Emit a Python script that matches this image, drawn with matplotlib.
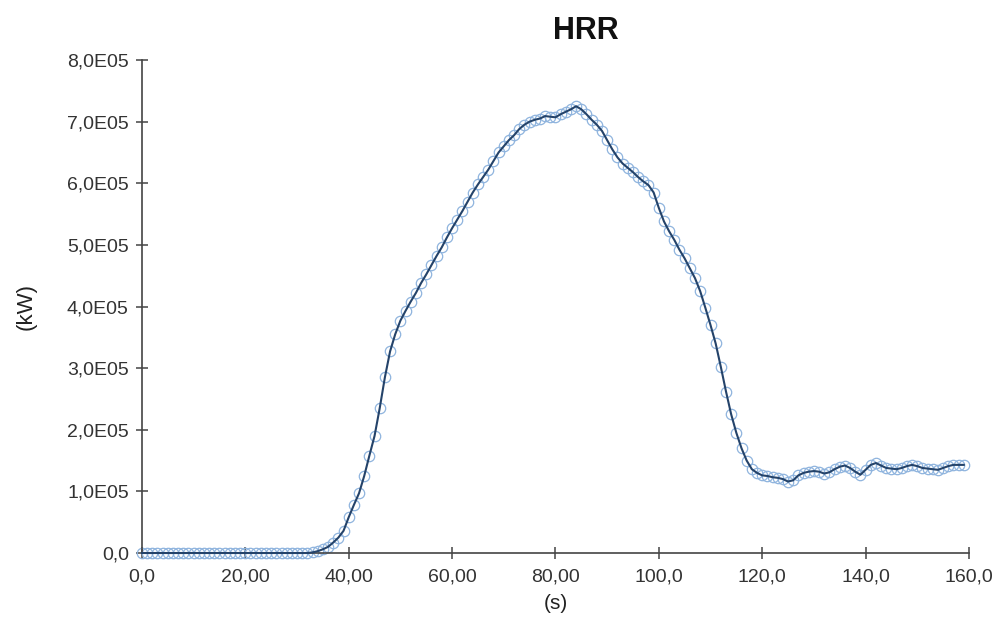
import numpy as np
import matplotlib
matplotlib.use("Agg")
from matplotlib import pyplot as plt

plt.rcParams["font.family"] = ["Liberation Sans", "DejaVu Sans"]

# time (s), one sample per second
time_s = list(range(160))

# heat release rate (units of 1e5 kW)
hrr_e5 = [
    0, 0, 0, 0, 0, 0, 0, 0, 0, 0,
    0, 0, 0, 0, 0, 0, 0, 0, 0, 0,
    0, 0, 0, 0, 0, 0, 0, 0, 0, 0,
    0, 0, 0, 0.01, 0.03, 0.06, 0.10, 0.17, 0.25, 0.36,
    0.58, 0.78, 0.97, 1.25, 1.58, 1.90, 2.35, 2.85, 3.27, 3.55,
    3.77, 3.93, 4.08, 4.22, 4.38, 4.52, 4.67, 4.82, 4.96, 5.12,
    5.27, 5.41, 5.55, 5.70, 5.85, 5.98, 6.10, 6.22, 6.36, 6.50,
    6.60, 6.70, 6.78, 6.88, 6.95, 7.00, 7.03, 7.05, 7.09, 7.08,
    7.07, 7.12, 7.16, 7.20, 7.25, 7.20, 7.12, 7.03, 6.95, 6.85,
    6.70, 6.55, 6.42, 6.32, 6.25, 6.18, 6.10, 6.03, 5.97, 5.85,
    5.60, 5.38, 5.22, 5.08, 4.92, 4.78, 4.62, 4.46, 4.25, 3.98,
    3.70, 3.40, 3.02, 2.62, 2.25, 1.95, 1.70, 1.50, 1.36, 1.30,
    1.26, 1.25, 1.23, 1.22, 1.20, 1.16, 1.18, 1.26, 1.30, 1.32,
    1.33, 1.32, 1.29, 1.31, 1.36, 1.40, 1.42, 1.38, 1.32, 1.27,
    1.35, 1.43, 1.46, 1.42, 1.38, 1.37, 1.36, 1.38, 1.41, 1.43,
    1.41, 1.38, 1.37, 1.36, 1.35, 1.38, 1.41, 1.43, 1.43, 1.43,
]

x_ticks = [0, 20, 40, 60, 80, 100, 120, 140, 160]
x_tick_labels = ["0,0", "20,00", "40,00", "60,00", "80,00",
                 "100,0", "120,0", "140,0", "160,0"]
y_ticks = [0, 1e5, 2e5, 3e5, 4e5, 5e5, 6e5, 7e5, 8e5]
y_tick_labels = ["0,0", "1,0E05", "2,0E05", "3,0E05", "4,0E05",
                 "5,0E05", "6,0E05", "7,0E05", "8,0E05"]

hrr = np.array(hrr_e5) * 1e5

fig = plt.figure(figsize=(9.99, 6.27), dpi=100)
ax = fig.add_axes([0.1421, 0.118, 0.8278, 0.7863])

ax.plot(time_s, hrr, linestyle="none", marker="o", markersize=7.5,
        markerfacecolor="none", markeredgecolor="#8fb4de",
        markeredgewidth=0.9, clip_on=False, zorder=2)
ax.plot(time_s, hrr, color="#24436a", linewidth=1.5, clip_on=False, zorder=3)

ax.set_xlim(0, 160)
ax.set_ylim(0, 8e5)
ax.set_xticks(x_ticks)
ax.set_xticklabels(x_tick_labels)
ax.set_yticks(y_ticks)
ax.set_yticklabels(y_tick_labels)

for side in ("top", "right"):
    ax.spines[side].set_visible(False)
for side in ("left", "bottom"):
    ax.spines[side].set_color("#444444")
    ax.spines[side].set_linewidth(1.2)

ax.tick_params(direction="inout", length=9, width=1.1, color="#444444",
               labelsize=14, labelcolor="#333333")
ax.tick_params(axis="y", pad=5)
ax.tick_params(axis="x", pad=7)

ax.set_xlabel("(s)", fontsize=15, color="#222222", labelpad=6)
ax.set_ylabel("(kW)", fontsize=16, color="#222222", labelpad=22)

fig.text(0.586, 0.951, "HRR", fontsize=22, fontweight="bold",
         ha="center", va="center", color="#111111")

fig.savefig("out.png", dpi=100)
